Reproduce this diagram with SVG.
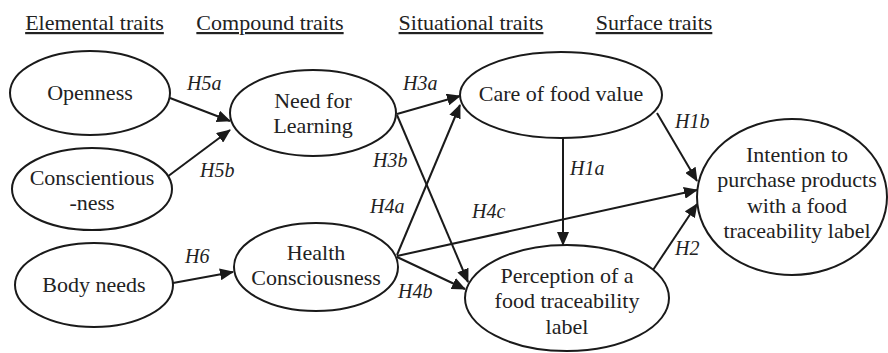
<svg xmlns="http://www.w3.org/2000/svg" width="888" height="353" viewBox="0 0 888 353" font-family="Liberation Serif, Times New Roman, serif">
<defs>
<style>
.node-shape{fill:#fff;stroke:#1a1a1a;stroke-width:2}
.node-text{font-family:'Liberation Serif','Times New Roman',serif;font-size:22px;fill:#222;text-anchor:middle}
.header-text{font-family:'Liberation Serif','Times New Roman',serif;font-size:22px;fill:#222;text-anchor:middle;text-decoration:underline}
.edge-label{font-family:'Liberation Serif','Times New Roman',serif;font-size:20px;font-style:italic;fill:#222}
.edge{stroke:#1a1a1a;stroke-width:2;fill:none;marker-end:url(#arrow)}
</style>
<marker id="arrow" markerUnits="userSpaceOnUse" markerWidth="14" markerHeight="12" refX="13" refY="6" orient="auto">
<path d="M0,0 L14,6 L0,12 z" fill="#1a1a1a"/>
</marker>
</defs>
<rect width="888" height="353" fill="#fff"/>
<g id="headers">
<text class="header-text" x="94.5" y="30">Elemental traits</text>
<text class="header-text" x="270" y="30">Compound traits</text>
<text class="header-text" x="471" y="30">Situational traits</text>
<text class="header-text" x="654" y="30">Surface traits</text>
</g>
<g id="connectors">
<line class="edge" x1="170" y1="98" x2="230" y2="121"/>
<line class="edge" x1="167" y1="177" x2="230" y2="130"/>
<line class="edge" x1="173" y1="283" x2="233" y2="272"/>
<line class="edge" x1="397" y1="114" x2="460" y2="96"/>
<line class="edge" x1="397" y1="115" x2="468" y2="282"/>
<line class="edge" x1="397" y1="255" x2="460" y2="105"/>
<line class="edge" x1="397" y1="257" x2="465" y2="289"/>
<line class="edge" x1="397" y1="256" x2="697" y2="190"/>
<line class="edge" x1="657" y1="113" x2="697" y2="181"/>
<line class="edge" x1="563" y1="138" x2="563" y2="245"/>
<line class="edge" x1="653" y1="270" x2="697" y2="204"/>
<text class="edge-label" x="187" y="90">H5a</text>
<text class="edge-label" x="200" y="177">H5b</text>
<text class="edge-label" x="185" y="263">H6</text>
<text class="edge-label" x="403" y="90">H3a</text>
<text class="edge-label" x="373" y="167">H3b</text>
<text class="edge-label" x="370" y="213">H4a</text>
<text class="edge-label" x="398" y="298">H4b</text>
<text class="edge-label" x="472" y="218">H4c</text>
<text class="edge-label" x="570" y="175">H1a</text>
<text class="edge-label" x="675" y="128">H1b</text>
<text class="edge-label" x="675" y="255">H2</text>
</g>
<g id="openness">
<ellipse class="node-shape" cx="90" cy="93" rx="80" ry="42"/>
<text class="node-text" x="90" y="100">Openness</text>
</g>
<g id="conscientiousness">
<ellipse class="node-shape" cx="92" cy="189" rx="80" ry="41"/>
<text class="node-text" x="92" y="185">Conscientious</text>
<text class="node-text" x="92" y="210">-ness</text>
</g>
<g id="body-needs">
<ellipse class="node-shape" cx="94" cy="285" rx="79" ry="42"/>
<text class="node-text" x="94" y="292">Body needs</text>
</g>
<g id="need-for-learning">
<ellipse class="node-shape" cx="313" cy="113" rx="83" ry="43"/>
<text class="node-text" x="313" y="108">Need for</text>
<text class="node-text" x="313" y="133">Learning</text>
</g>
<g id="health-consciousness">
<ellipse class="node-shape" cx="316" cy="267" rx="82" ry="44"/>
<text class="node-text" x="316" y="260">Health</text>
<text class="node-text" x="316" y="285">Consciousness</text>
</g>
<g id="care-of-food-value">
<ellipse class="node-shape" cx="561" cy="95" rx="101" ry="43"/>
<text class="node-text" x="561" y="101">Care of food value</text>
</g>
<g id="perception">
<ellipse class="node-shape" cx="567" cy="298" rx="102" ry="53"/>
<text class="node-text" x="567" y="283">Perception of a</text>
<text class="node-text" x="567" y="308">food traceability</text>
<text class="node-text" x="567" y="334">label</text>
</g>
<g id="intention">
<ellipse class="node-shape" cx="792" cy="197" rx="95" ry="78"/>
<text class="node-text" x="797" y="162">Intention to</text>
<text class="node-text" x="797" y="187">purchase products</text>
<text class="node-text" x="797" y="213">with a food</text>
<text class="node-text" x="797" y="238">traceability label</text>
</g>
</svg>
